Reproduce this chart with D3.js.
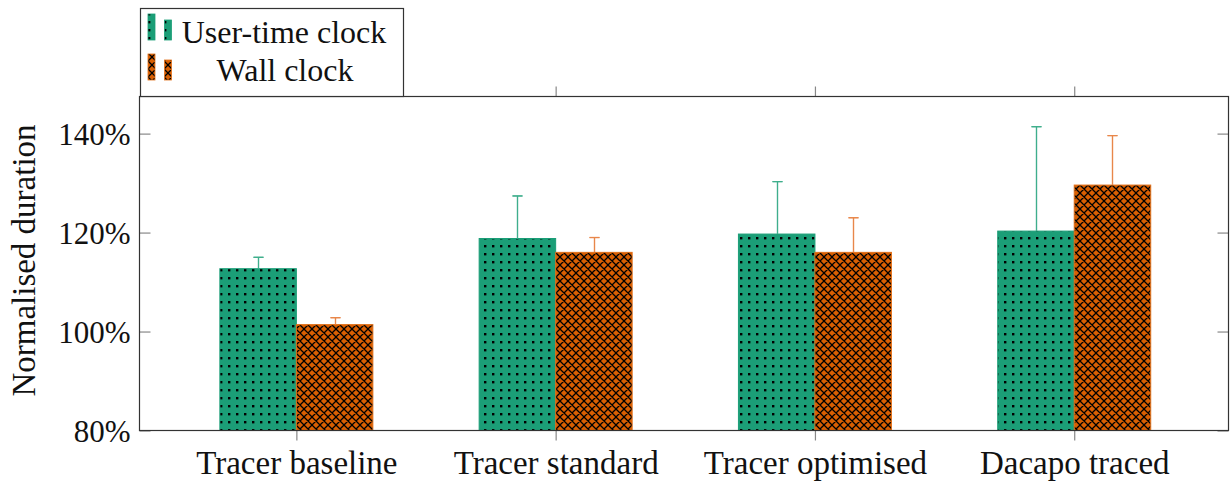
<!DOCTYPE html>
<html>
<head>
<meta charset="utf-8">
<script src="https://cdn.jsdelivr.net/npm/d3@7"></script>
<style>
  html, body { margin: 0; padding: 0; background: #fff; }
  svg { display: block; }
  svg text { font-family: "Liberation Serif", "Times New Roman", "Nimbus Roman", "DejaVu Serif", serif; fill: #111; }
</style>
</head>
<body>
<svg id="chart" width="1232" height="481"></svg>
<script>
// Benchmark configurations along the x axis
const categories = ["Tracer baseline", "Tracer standard", "Tracer optimised", "Dacapo traced"];
// Normalised duration (%) per configuration
const userTime = [112.7, 118.8, 119.7, 120.3];
const userTimeErr = [2.3, 8.6, 10.6, 21.1];
const wallClock = [101.4, 116.0, 116.0, 129.6];
const wallClockErr = [1.4, 3.0, 7.0, 10.0];
// Y axis ticks
const yTicks = [80, 100, 120, 140];

const series = [
  { name: "User-time clock", values: userTime, errors: userTimeErr, color: "#1b9e77", stroke: "#1b9e77", errColor: "#3fae8c", pattern: "dots" },
  { name: "Wall clock", values: wallClock, errors: wallClockErr, color: "#d95f02", stroke: "#e0701a", errColor: "#e8874a", pattern: "cross" }
];

const svg = d3.select("#chart");
const plot = { left: 139.5, right: 1228.5, top: 96.5, bottom: 430.5 };

const x = d3.scaleLinear().domain([-0.605, 3.595]).range([plot.left, plot.right]);
const y = d3.scaleLinear().domain([80, 147.5]).range([plot.bottom, plot.top]);
const barW = 76.5;

// Fill patterns
const defs = svg.append("defs");
const pd = defs.append("pattern").attr("id", "dots").attr("patternUnits", "userSpaceOnUse")
  .attr("width", 8).attr("height", 8).attr("x", 1).attr("y", 2);
pd.append("rect").attr("width", 8).attr("height", 8).attr("fill", series[0].color);
pd.append("rect").attr("x", 3).attr("y", 3).attr("width", 2.4).attr("height", 2.4).attr("fill", "#000");

const pc = defs.append("pattern").attr("id", "cross").attr("patternUnits", "userSpaceOnUse")
  .attr("width", 8).attr("height", 8).attr("x", 0).attr("y", 1);
pc.append("rect").attr("width", 8).attr("height", 8).attr("fill", series[1].color);
pc.append("path").attr("d", "M0,0L8,8M8,0L0,8M-1,7L1,9M7,-1L9,1M7,9L9,7M-1,1L1,-1")
  .attr("stroke", "#000").attr("stroke-width", 1.3).attr("fill", "none");

// Error bars (drawn first so the bars cover the lower half)
series.forEach((s, si) => {
  const off = si === 0 ? -barW / 2 : barW / 2;
  const g = svg.append("g");
  categories.forEach((c, i) => {
    const cx = Math.round(x(i) + off) + 0.5;
    const lo = y(s.values[i] - s.errors[i]);
    const hi = y(s.values[i] + s.errors[i]);
    g.append("line").attr("x1", cx).attr("x2", cx).attr("y1", lo).attr("y2", hi)
      .attr("stroke", s.errColor).attr("stroke-width", 1.2);
    [lo, hi].forEach(yy => g.append("line").attr("x1", cx - 5).attr("x2", cx + 5)
      .attr("y1", yy).attr("y2", yy).attr("stroke", s.errColor).attr("stroke-width", 1.2));
  });
});

// Bars
series.forEach((s, si) => {
  svg.append("g").selectAll("rect").data(s.values).join("rect")
    .attr("x", (d, i) => si === 0 ? x(i) - barW : x(i))
    .attr("width", barW)
    .attr("y", d => y(d))
    .attr("height", d => y(80) - y(d))
    .attr("fill", `url(#${s.pattern})`)
    .attr("stroke", s.stroke).attr("stroke-width", 1);
});

// Upper whiskers stay visible above the bars
series.forEach((s, si) => {
  const off = si === 0 ? -barW / 2 : barW / 2;
  const g = svg.append("g");
  categories.forEach((c, i) => {
    const cx = Math.round(x(i) + off) + 0.5;
    const top = y(s.values[i]);
    const hi = y(s.values[i] + s.errors[i]);
    g.append("line").attr("x1", cx).attr("x2", cx).attr("y1", top).attr("y2", hi)
      .attr("stroke", s.errColor).attr("stroke-width", 1.2);
    g.append("line").attr("x1", cx - 5).attr("x2", cx + 5).attr("y1", hi).attr("y2", hi)
      .attr("stroke", s.errColor).attr("stroke-width", 1.2);
  });
});

// Axes
const tickColor = "#888";
const yLeft = svg.append("g").attr("transform", `translate(${plot.left},0)`)
  .call(d3.axisLeft(y).tickValues(yTicks).tickSize(-11).tickPadding(19).tickFormat(d => d + "%"));
const yRight = svg.append("g").attr("transform", `translate(${plot.right},0)`)
  .call(d3.axisRight(y).tickValues(yTicks).tickSize(-11).tickFormat(""));
const xBottom = svg.append("g").attr("transform", `translate(0,${plot.bottom})`)
  .call(d3.axisBottom(x).tickValues(d3.range(categories.length)).tickSize(10).tickPadding(10)
    .tickFormat(i => categories[i]));
const xTop = svg.append("g").attr("transform", `translate(0,${plot.top})`)
  .call(d3.axisTop(x).tickValues(d3.range(categories.length)).tickSize(10).tickFormat(""));

[yLeft, yRight, xBottom, xTop].forEach(a => {
  a.attr("font-family", null).attr("font-size", null);
  a.select(".domain").remove();
  a.selectAll(".tick line").attr("stroke", tickColor).attr("stroke-width", 1.2);
  a.selectAll("text").attr("fill", "#111");
});
yLeft.selectAll("text").style("font-size", "31px").attr("dx", 10).attr("dy", "0.35em");
xBottom.selectAll("text").style("font-size", "33px").attr("dy", "0.71em");

// Frame
svg.append("rect").attr("x", plot.left).attr("y", plot.top)
  .attr("width", plot.right - plot.left).attr("height", plot.bottom - plot.top)
  .attr("fill", "none").attr("stroke", "#333").attr("stroke-width", 1.2);

// Y axis title
svg.append("text").attr("transform", `translate(35,${(plot.top + plot.bottom) / 2 - 3}) rotate(-90)`)
  .attr("text-anchor", "middle").style("font-size", "33px").text("Normalised duration");

// Legend
const leg = svg.append("g");
leg.append("rect").attr("x", 140.5).attr("y", 8.5).attr("width", 263).attr("height", 88)
  .attr("fill", "#fff").attr("stroke", "#333").attr("stroke-width", 1.2);
const legRows = [{ y: 14, h: 26, textX: 284, ty: 32 }, { y: 54, h: 26, textX: 285, ty: 70 }];
series.forEach((s, si) => {
  const r = legRows[si];
  leg.append("rect").attr("x", 148).attr("y", r.y).attr("width", 7).attr("height", r.h)
    .attr("fill", `url(#${s.pattern})`).attr("stroke", s.stroke).attr("stroke-width", 0.8);
  leg.append("rect").attr("x", 164.5).attr("y", r.y + 6).attr("width", 7).attr("height", r.h - 6)
    .attr("fill", `url(#${s.pattern})`).attr("stroke", s.stroke).attr("stroke-width", 0.8);
  leg.append("text").attr("x", r.textX).attr("y", r.ty).attr("dy", "0.35em")
    .attr("text-anchor", "middle").style("font-size", "32px").text(s.name);
});
</script>
</body>
</html>
